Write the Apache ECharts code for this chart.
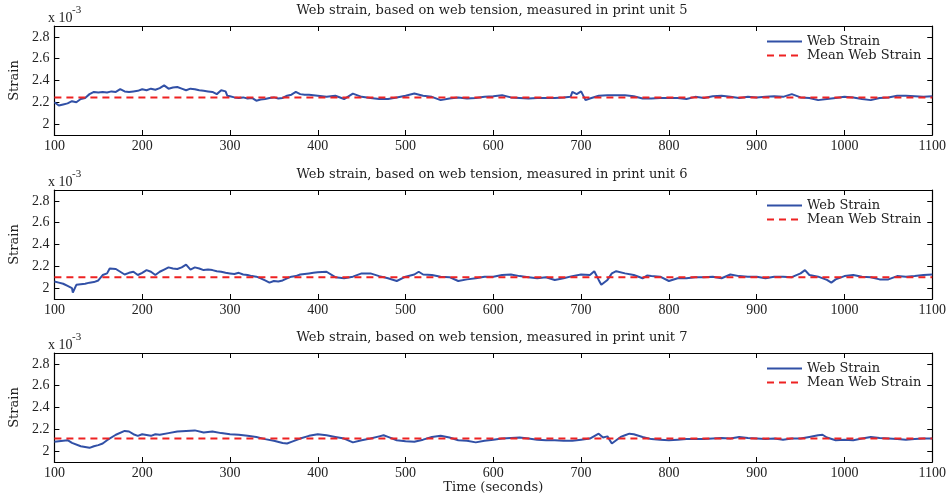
<!DOCTYPE html>
<html>
<head>
<meta charset="utf-8">
<script src="https://cdn.jsdelivr.net/npm/echarts@6/dist/echarts.min.js"></script>
<style>
  html, body { margin: 0; padding: 0; background: #fff; }
  #chart { width: 949px; height: 500px; }
</style>
</head>
<body>
<div id="chart"></div>
<script>
// strain values are in units of 1e-3 (axis shows "x 10^-3")
var unitNames = ["5", "6", "7"];
var meanStrain = [2.245, 2.10, 2.115];

var unit5 = [
  [100, 2.20], [105, 2.17], [110, 2.18], [115, 2.19], [120, 2.21], [125, 2.20], [130, 2.23], [135, 2.24],
  [140, 2.275], [145, 2.295], [150, 2.29], [155, 2.295], [160, 2.29], [165, 2.30], [170, 2.295], [175, 2.32],
  [180, 2.30], [185, 2.295], [190, 2.30], [195, 2.305], [200, 2.32], [205, 2.31], [210, 2.325], [215, 2.315],
  [220, 2.33], [225, 2.355], [230, 2.325], [235, 2.335], [240, 2.34], [245, 2.325], [250, 2.31], [255, 2.325],
  [260, 2.32], [265, 2.31], [270, 2.305], [275, 2.30], [280, 2.295], [285, 2.275], [290, 2.31], [295, 2.30],
  [297, 2.26], [300, 2.255], [305, 2.245], [310, 2.24], [315, 2.245], [320, 2.235], [325, 2.24], [330, 2.215],
  [335, 2.225], [340, 2.23], [345, 2.24], [350, 2.245], [355, 2.235], [360, 2.24], [365, 2.26], [370, 2.27],
  [375, 2.295], [380, 2.275], [385, 2.27], [390, 2.27], [395, 2.265], [400, 2.26], [410, 2.25], [420, 2.26],
  [430, 2.23], [440, 2.28], [450, 2.25], [460, 2.24], [470, 2.23], [480, 2.23], [490, 2.245], [500, 2.26],
  [510, 2.28], [520, 2.26], [530, 2.25], [540, 2.22], [550, 2.235], [560, 2.245], [570, 2.235], [580, 2.24],
  [590, 2.25], [600, 2.255], [610, 2.265], [620, 2.245], [630, 2.24], [640, 2.235], [650, 2.24], [660, 2.24],
  [670, 2.24], [680, 2.245], [688, 2.25], [690, 2.295], [695, 2.275], [700, 2.30], [705, 2.22], [710, 2.235],
  [720, 2.26], [730, 2.265], [740, 2.265], [750, 2.265], [760, 2.255], [770, 2.235], [780, 2.235], [790, 2.24],
  [800, 2.24], [810, 2.24], [820, 2.23], [830, 2.25], [840, 2.24], [850, 2.255], [860, 2.26], [870, 2.25],
  [880, 2.24], [890, 2.25], [900, 2.245], [910, 2.25], [920, 2.255], [930, 2.25], [940, 2.275], [950, 2.245],
  [960, 2.24], [970, 2.22], [980, 2.23], [990, 2.24], [1000, 2.25], [1010, 2.245], [1020, 2.23], [1030, 2.22],
  [1040, 2.24], [1050, 2.245], [1060, 2.26], [1070, 2.26], [1080, 2.255], [1090, 2.25], [1100, 2.255]
];

var unit6 = [
  [100, 2.06], [105, 2.05], [110, 2.04], [115, 2.02], [120, 2.00], [121, 1.96], [125, 2.03], [130, 2.035],
  [135, 2.04], [140, 2.05], [145, 2.055], [150, 2.07], [155, 2.12], [160, 2.135], [163, 2.18], [170, 2.175],
  [175, 2.15], [180, 2.125], [185, 2.14], [190, 2.15], [195, 2.12], [200, 2.14], [205, 2.165], [210, 2.15],
  [215, 2.12], [220, 2.15], [225, 2.17], [230, 2.19], [235, 2.18], [240, 2.175], [245, 2.19], [250, 2.215],
  [255, 2.17], [260, 2.19], [265, 2.18], [270, 2.165], [275, 2.17], [280, 2.165], [285, 2.155], [290, 2.15],
  [295, 2.14], [300, 2.135], [305, 2.13], [310, 2.14], [315, 2.125], [320, 2.12], [325, 2.11], [330, 2.105],
  [335, 2.09], [340, 2.07], [345, 2.05], [350, 2.065], [355, 2.06], [360, 2.07], [365, 2.09], [370, 2.105],
  [375, 2.11], [380, 2.125], [385, 2.13], [390, 2.135], [395, 2.14], [400, 2.145], [410, 2.15], [420, 2.10],
  [430, 2.09], [440, 2.105], [450, 2.135], [460, 2.135], [470, 2.11], [480, 2.09], [490, 2.065], [500, 2.105],
  [510, 2.125], [515, 2.15], [520, 2.125], [530, 2.12], [540, 2.105], [550, 2.10], [560, 2.065], [570, 2.08],
  [580, 2.09], [590, 2.105], [600, 2.105], [610, 2.12], [620, 2.125], [630, 2.11], [640, 2.10], [650, 2.09],
  [660, 2.10], [670, 2.075], [680, 2.09], [690, 2.11], [700, 2.125], [710, 2.12], [715, 2.155], [720, 2.075],
  [723, 2.03], [730, 2.075], [735, 2.135], [740, 2.155], [750, 2.135], [760, 2.12], [770, 2.09], [775, 2.115],
  [780, 2.11], [790, 2.105], [800, 2.065], [810, 2.09], [820, 2.09], [830, 2.10], [840, 2.10], [850, 2.105],
  [860, 2.09], [870, 2.125], [880, 2.11], [890, 2.105], [900, 2.105], [910, 2.09], [920, 2.105], [930, 2.105],
  [940, 2.10], [950, 2.135], [955, 2.165], [960, 2.12], [970, 2.105], [980, 2.075], [985, 2.05], [990, 2.08],
  [1000, 2.11], [1010, 2.12], [1020, 2.105], [1030, 2.10], [1040, 2.08], [1050, 2.08], [1060, 2.11], [1070, 2.105],
  [1080, 2.11], [1090, 2.12], [1100, 2.125]
];

var unit7 = [
  [100, 2.085], [110, 2.095], [115, 2.10], [120, 2.075], [130, 2.045], [140, 2.03], [145, 2.045], [150, 2.055],
  [155, 2.07], [160, 2.10], [170, 2.15], [180, 2.185], [185, 2.18], [190, 2.155], [195, 2.14], [200, 2.155],
  [210, 2.14], [215, 2.155], [220, 2.15], [230, 2.165], [240, 2.18], [250, 2.185], [260, 2.19], [270, 2.17],
  [280, 2.18], [290, 2.165], [300, 2.155], [310, 2.15], [320, 2.14], [330, 2.13], [340, 2.11], [350, 2.095],
  [360, 2.075], [365, 2.07], [370, 2.085], [380, 2.115], [390, 2.14], [400, 2.155], [410, 2.145], [420, 2.13],
  [430, 2.115], [440, 2.08], [450, 2.10], [460, 2.115], [470, 2.135], [475, 2.145], [480, 2.13], [490, 2.10],
  [500, 2.09], [510, 2.085], [520, 2.105], [530, 2.13], [540, 2.14], [550, 2.125], [560, 2.10], [570, 2.095],
  [580, 2.08], [590, 2.095], [600, 2.105], [610, 2.115], [620, 2.12], [630, 2.125], [640, 2.115], [650, 2.105],
  [660, 2.10], [670, 2.10], [680, 2.095], [690, 2.095], [700, 2.105], [710, 2.115], [720, 2.16], [725, 2.125],
  [730, 2.135], [735, 2.07], [740, 2.10], [745, 2.13], [750, 2.145], [755, 2.16], [760, 2.155], [770, 2.13],
  [780, 2.11], [790, 2.105], [800, 2.10], [810, 2.105], [820, 2.11], [830, 2.11], [840, 2.11], [850, 2.115],
  [860, 2.12], [870, 2.115], [880, 2.13], [890, 2.12], [900, 2.115], [910, 2.11], [920, 2.115], [930, 2.105],
  [940, 2.115], [950, 2.115], [960, 2.13], [970, 2.145], [975, 2.15], [980, 2.125], [990, 2.10], [1000, 2.105],
  [1010, 2.10], [1020, 2.115], [1030, 2.13], [1040, 2.12], [1050, 2.115], [1060, 2.11], [1070, 2.105], [1080, 2.11],
  [1090, 2.115], [1100, 2.115]
];

var yTicks = [2, 2.2, 2.4, 2.6, 2.8];
var timeRange = [100, 1100];

var strainData = [unit5, unit6, unit7];
var NUM_FONT = "'Liberation Serif', serif";
var WORD_FONT = "'DejaVu Serif', serif";
var TEXT_COLOR = "#222";
var BLUE = "#3150a6";
var RED = "#ee2222";

// layout per panel (plot area top / height)
var panelTop = [26, 190, 353];
var panelHeight = 109;
var plotLeft = 52, plotRight = 16;

var chart = echarts.init(document.getElementById("chart"));

var grid = [], xAxis = [], yAxis = [], series = [], legend = [], graphic = [];

panelTop.forEach(function (top, i) {
  grid.push({ left: plotLeft, right: plotRight, top: top, height: panelHeight });

  var tickStyle = { inside: true, length: 5, lineStyle: { color: "#000", width: 1 } };
  var lineStyle = { onZero: false, lineStyle: { color: "#000", width: 1.2 } };

  xAxis.push({
    type: "value", gridIndex: i, position: "bottom",
    min: timeRange[0], max: timeRange[1], interval: 100,
    axisLine: lineStyle, axisTick: tickStyle, splitLine: { show: false },
    axisLabel: {
      margin: 4, fontFamily: NUM_FONT, fontSize: 14, color: TEXT_COLOR,
      formatter: function (v) { return String(v); }
    },
    name: i === 2 ? "Time (seconds)" : "",
    nameLocation: "middle", nameGap: 18,
    nameTextStyle: { fontFamily: WORD_FONT, fontSize: 13, color: TEXT_COLOR }
  });
  xAxis.push({
    type: "value", gridIndex: i, position: "top",
    min: timeRange[0], max: timeRange[1], interval: 100,
    axisLine: lineStyle, axisTick: tickStyle, splitLine: { show: false },
    axisLabel: { show: false }
  });
  yAxis.push({
    type: "value", gridIndex: i, position: "left",
    min: 1.9, max: 2.9,
    axisLine: lineStyle,
    axisTick: Object.assign({ customValues: yTicks }, tickStyle),
    splitLine: { show: false },
    axisLabel: {
      customValues: yTicks, margin: 5, fontFamily: NUM_FONT, fontSize: 14, color: TEXT_COLOR,
      formatter: function (v) { return String(Number(v.toFixed(1))); }
    },
    name: "Strain", nameLocation: "middle", nameGap: 29, nameRotate: 90,
    nameTextStyle: { fontFamily: WORD_FONT, fontSize: 13, color: TEXT_COLOR }
  });
  yAxis.push({
    type: "value", gridIndex: i, position: "right",
    min: 1.9, max: 2.9,
    axisLine: lineStyle,
    axisTick: Object.assign({ customValues: yTicks }, tickStyle),
    splitLine: { show: false },
    axisLabel: { show: false }
  });

  series.push({
    name: "Web Strain", type: "line",
    xAxisIndex: 2 * i, yAxisIndex: 2 * i,
    data: strainData[i], symbol: "none", showSymbol: false,
    lineStyle: { color: BLUE, width: 2 }, itemStyle: { color: BLUE },
    animation: false
  });
  series.push({
    name: "Mean Web Strain", type: "line",
    xAxisIndex: 2 * i, yAxisIndex: 2 * i,
    data: [[timeRange[0], meanStrain[i]], [timeRange[1], meanStrain[i]]],
    symbol: "none", showSymbol: false,
    lineStyle: { color: RED, width: 2, type: [7, 5] }, itemStyle: { color: RED },
    animation: false
  });

  // legend shows only the line sample, the marker circle is hidden
  legend.push({
    orient: "vertical", left: 766, top: top + 9, padding: 0,
    itemWidth: 35, itemHeight: 14, itemGap: 1,
    itemStyle: { opacity: 0, borderWidth: 0 },
    data: ["Web Strain", "Mean Web Strain"],
    textStyle: { fontFamily: WORD_FONT, fontSize: 13, color: TEXT_COLOR }
  });

  graphic.push({
    type: "text", x: 492, y: top - 15,
    style: {
      text: "Web strain, based on web tension, measured in print unit " + unitNames[i],
      fontFamily: WORD_FONT, fontSize: 13, fill: TEXT_COLOR,
      textAlign: "center", textVerticalAlign: "middle"
    }
  });
  graphic.push({
    type: "text", x: 48, y: top - 8,
    style: { text: "x 10", fontFamily: NUM_FONT, fontSize: 14, fill: TEXT_COLOR, textVerticalAlign: "middle" }
  });
  graphic.push({
    type: "text", x: 72, y: top - 16,
    style: { text: "-3", fontFamily: NUM_FONT, fontSize: 11, fill: TEXT_COLOR, textVerticalAlign: "middle" }
  });
});

chart.setOption({
  backgroundColor: "#fff",
  animation: false,
  grid: grid,
  xAxis: xAxis,
  yAxis: yAxis,
  legend: legend,
  series: series,
  graphic: graphic
});
</script>
</body>
</html>
